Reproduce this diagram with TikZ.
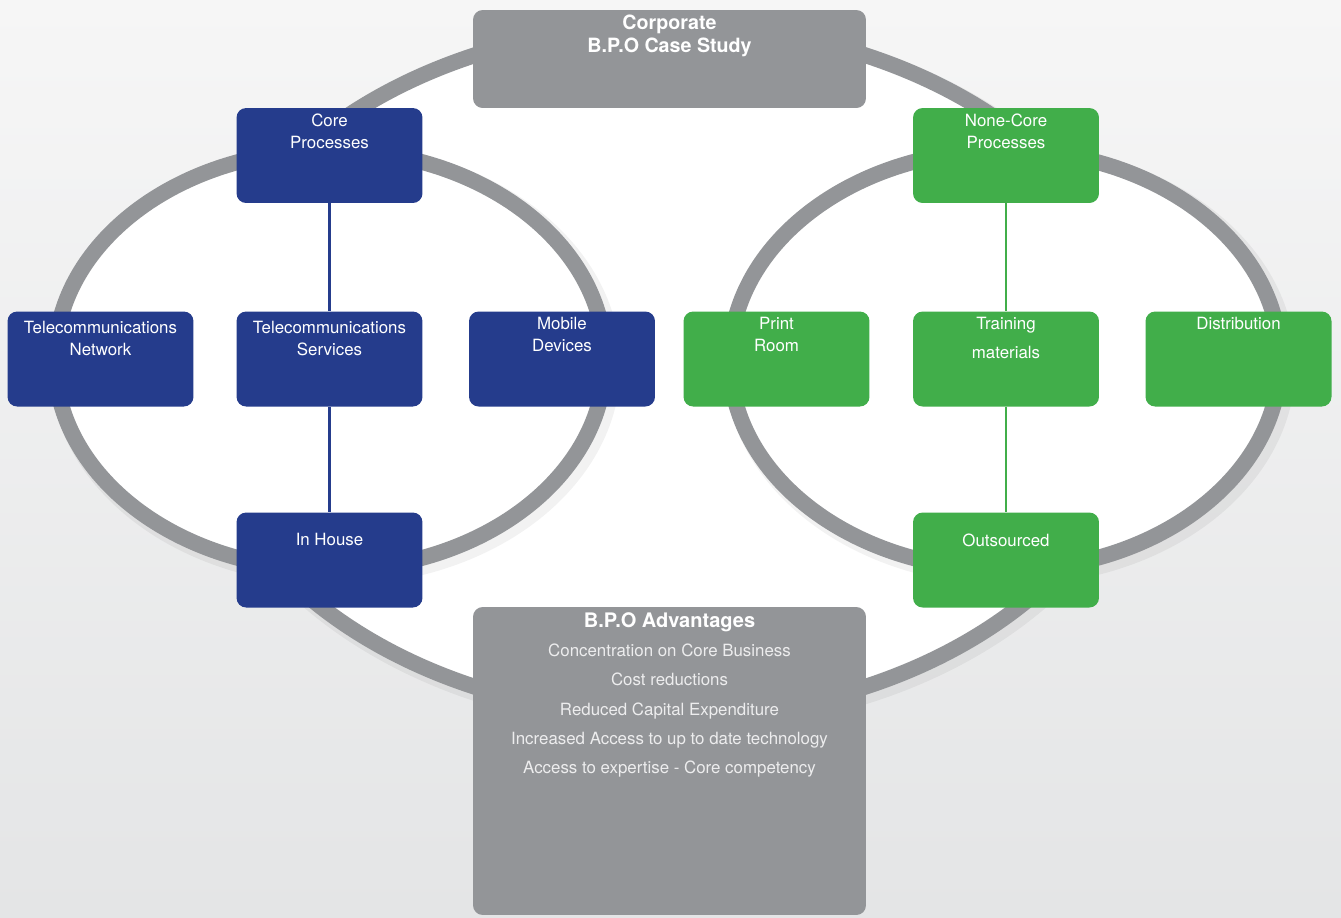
\documentclass[tikz,border=0pt]{standalone}
\usepackage{fontspec}
\setmainfont{TeX Gyre Heros}
\usepackage{tikz}
\usetikzlibrary{positioning}
\definecolor{bpogray}{HTML}{939598}
\definecolor{coreblue}{HTML}{253C8C}
\definecolor{nongreen}{HTML}{41AE4A}
\definecolor{bgtop}{HTML}{F6F6F6}
\definecolor{bgbottom}{HTML}{E4E5E6}
\definecolor{listwhite}{HTML}{EDEDEE}

% text at the top of a box
\newcommand{\boxtop}[2][3pt]{\parbox[c][1.9cm][t]{3.72cm}{\centering\vspace*{#1}#2}}
\newcommand{\titlefont}{\bfseries\fontsize{11.2}{13}\selectfont}

\begin{document}
\begin{tikzpicture}[x=0.02cm, y=-0.02cm,
    ring/.style={draw=bpogray, line width=9pt, fill=white},
    ringshadow/.style={draw=black, line width=12pt, opacity=0.05},
    unit/.style={rounded corners=5.5pt, minimum width=3.72cm, minimum height=1.9cm,
      inner sep=0pt, text=white, font=\fontsize{9.6}{12.5}\selectfont},
    corebox/.style={unit, fill=coreblue},
    nonbox/.style={unit, fill=nongreen},
    graybox/.style={rounded corners=5.5pt, inner sep=0pt, fill=bpogray, text=white},
    coreline/.style={draw=coreblue, line width=1.2pt},
    nonline/.style={draw=nongreen, line width=1.2pt}]

  % Background
  \shade[top color=bgtop, bottom color=bgbottom] (0,0) rectangle (1341,917);
  \useasboundingbox (0,0) rectangle (1341,917);

  % Outer ring
  \draw[ringshadow] (675,376) ellipse (477 and 346);
  \draw[ring] (670,371) ellipse (477 and 346);

  % Inner rings
  \draw[ringshadow] (335,365) ellipse (275 and 210);
  \draw[ringshadow] (1010,365) ellipse (275 and 210);
  \draw[ring] (330,360) ellipse (275 and 210);
  \draw[ring] (1005,360) ellipse (275 and 210);

  % Gray boxes
  \node[graybox, minimum width=7.86cm, minimum height=1.96cm] (corp) at (669.5,59)
    {\parbox[c][1.96cm][t]{7.86cm}{\centering\vspace*{3pt}\titlefont Corporate\\B.P.O Case Study}};
  \node[graybox, minimum width=7.86cm, minimum height=6.16cm] (adv) at (669.5,761)
    {\parbox[c][6.16cm][t]{7.86cm}{\centering\fontsize{9.6}{16.7}\selectfont\vspace*{3pt}%
      {\bfseries\fontsize{11.4}{16.7}\selectfont B.P.O Advantages}\\
      \color{listwhite}Concentration on Core Business\\
      Cost reductions\\
      Reduced Capital Expenditure\\
      Increased Access to up to date technology\\
      Access to expertise - Core competency}};

  % Core processes
  \node[corebox] (core) at (329.5,155.5) {\boxtop[3.4pt]{Core\\Processes}};
  \node[corebox] (tnet) at (100.5,359) {\boxtop[5.5pt]{Telecommunications\\Network}};
  \node[corebox] (tserv) at (329.5,359) {\boxtop[5.5pt]{Telecommunications\\Services}};
  \node[corebox] (mobile) at (562,359) {\boxtop{Mobile\\Devices}};
  \node[corebox] (inhouse) at (329.5,560) {\boxtop[12pt]{In House}};
  \draw[coreline] (core) -- (tserv);
  \draw[coreline] (tserv) -- (inhouse);

  % None-core processes
  \node[nonbox] (noncore) at (1006,155.5) {\boxtop[3.4pt]{None-Core\\Processes}};
  \node[nonbox] (print) at (776.5,359) {\boxtop{Print\\Room}};
  \node[nonbox] (training) at (1006,359) {\boxtop{Training\\[4pt]materials}};
  \node[nonbox] (distrib) at (1238.5,359) {\boxtop{Distribution}};
  \node[nonbox] (outsourced) at (1006,560) {\boxtop[12pt]{Outsourced}};
  \draw[nonline] (noncore) -- (training);
  \draw[nonline] (training) -- (outsourced);

\end{tikzpicture}
\end{document}
